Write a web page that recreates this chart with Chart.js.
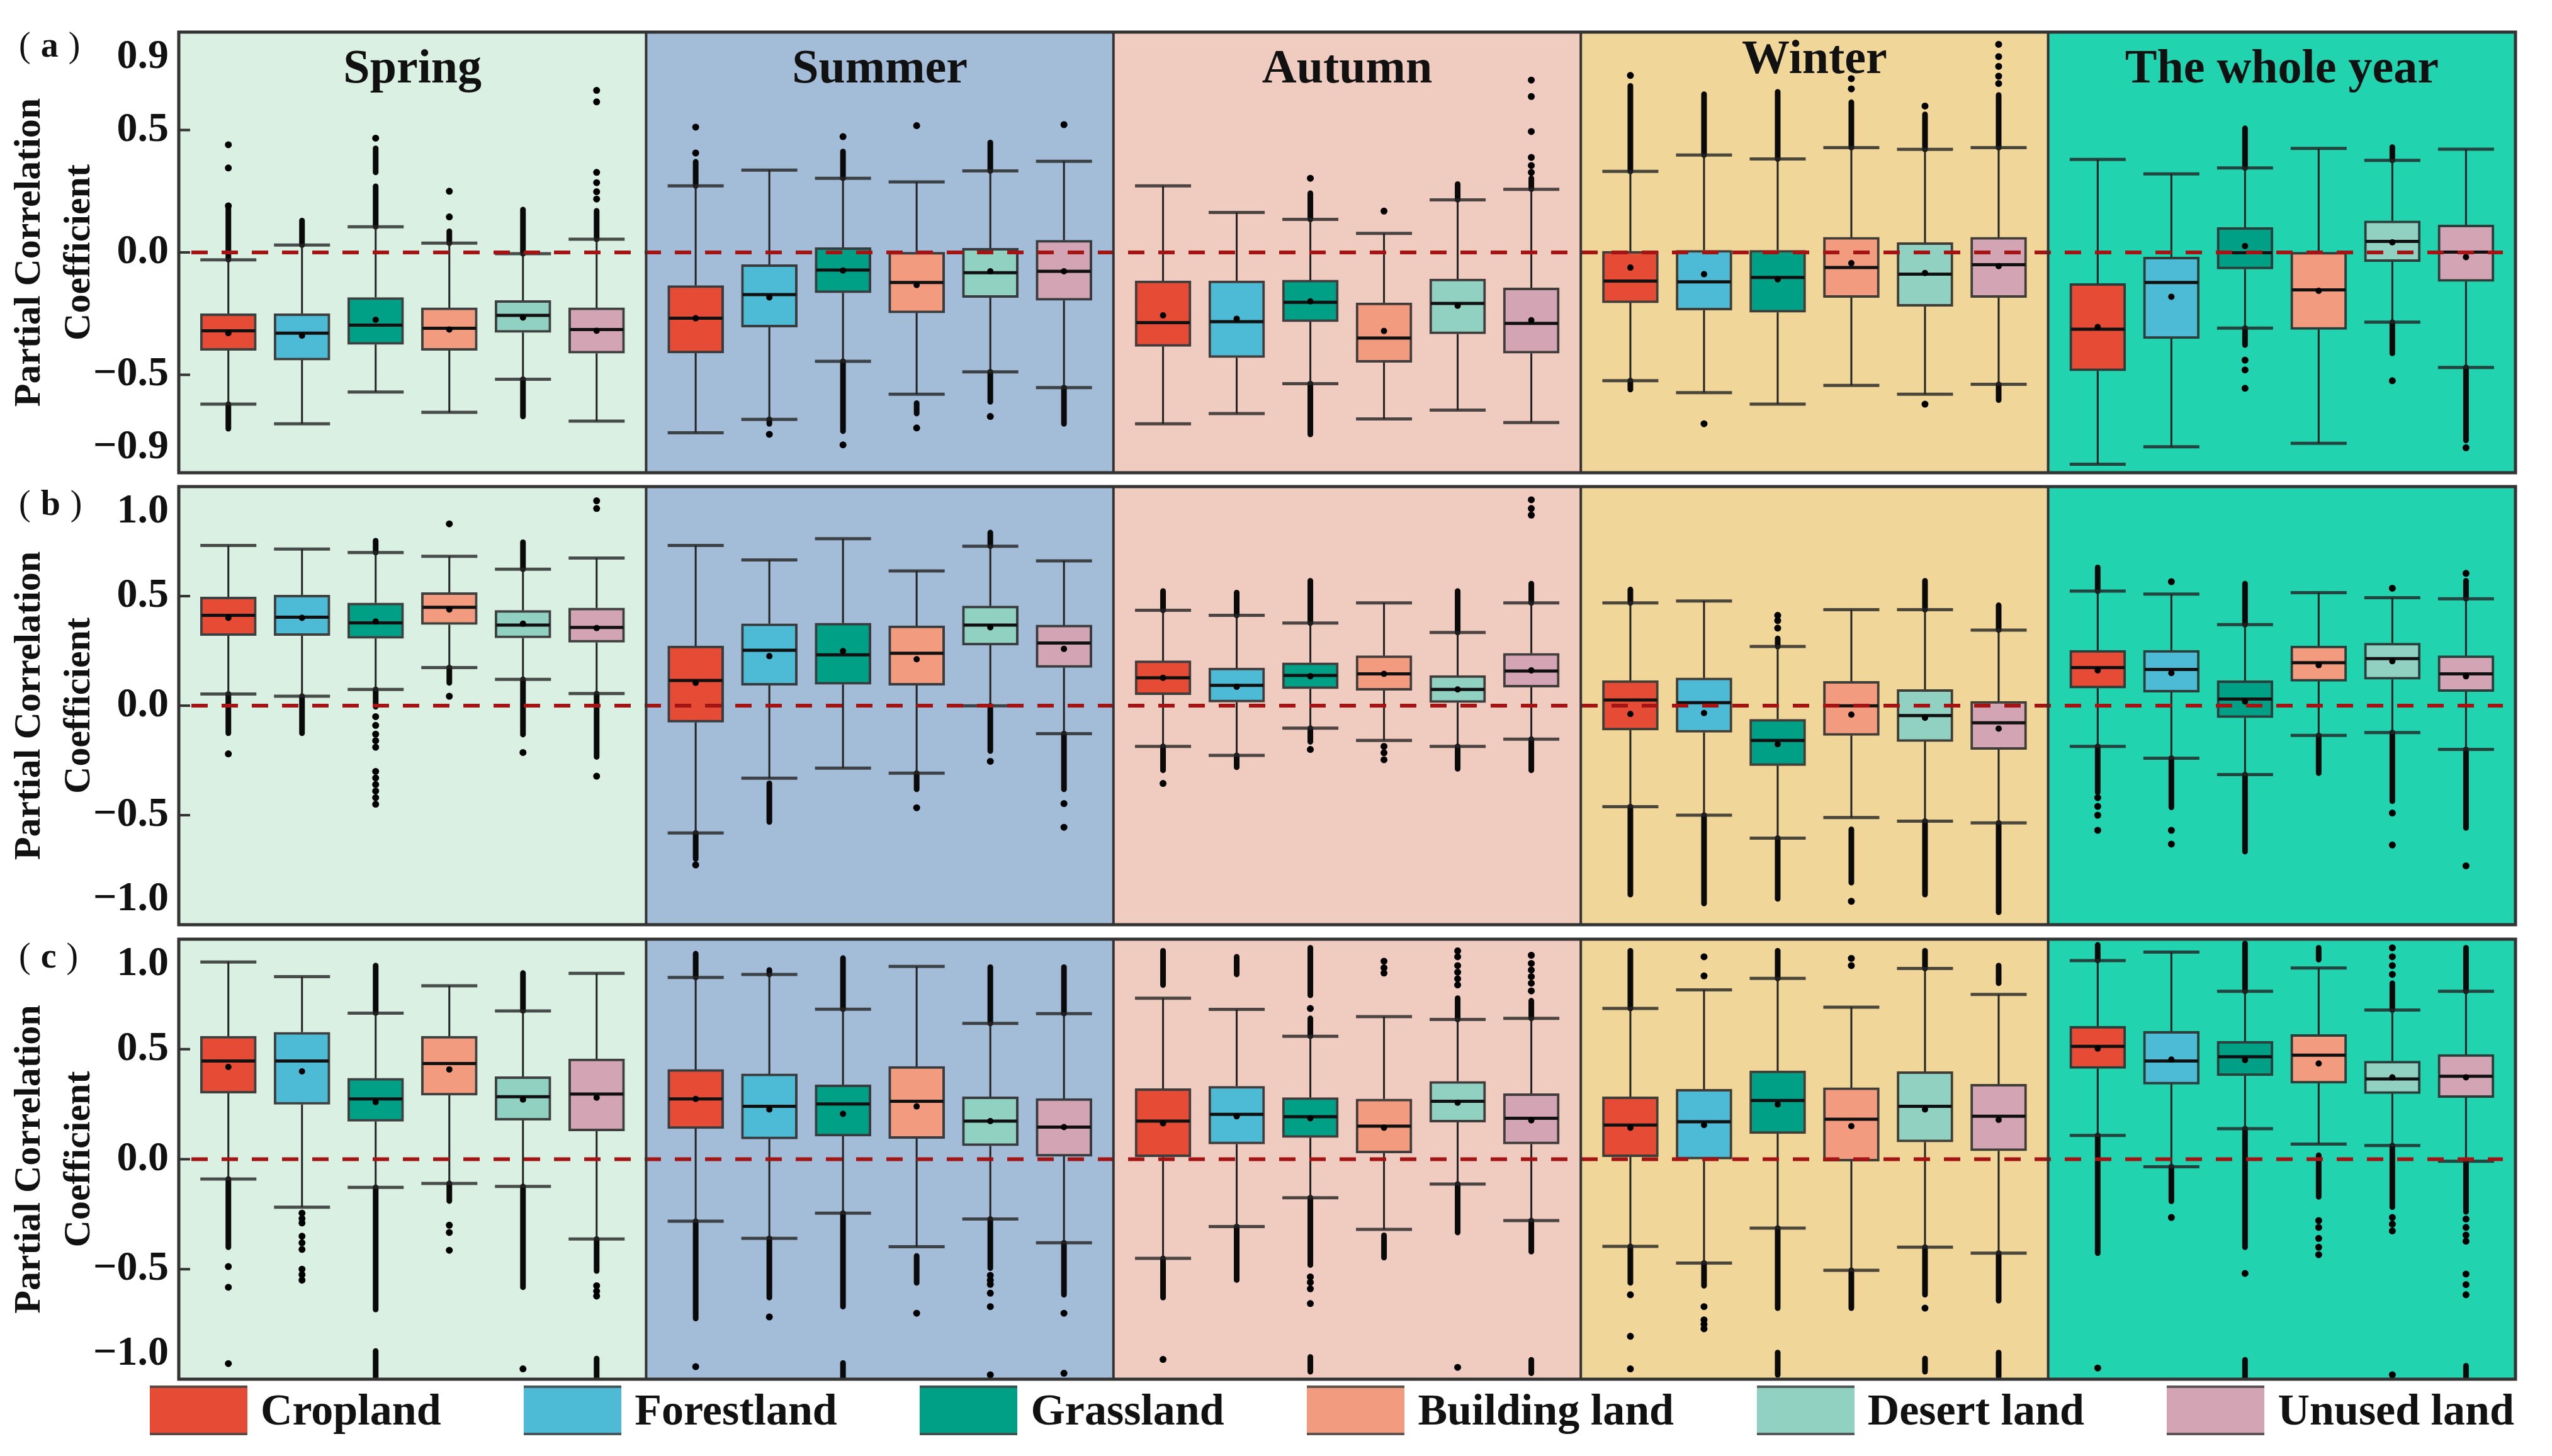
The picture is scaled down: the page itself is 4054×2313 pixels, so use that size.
<!DOCTYPE html>
<html>
<head>
<meta charset="utf-8">
<title>Partial correlation by land type and season</title>
<script src="https://cdn.jsdelivr.net/npm/chart.js@4.4.1/dist/chart.umd.min.js"></script>
<style>
    html, body { margin: 0; padding: 0; background: #fff; }
    body { width: 4054px; height: 2313px; position: relative; overflow: hidden; font-family: "Liberation Serif", "Times New Roman", serif; }
    .panel { position: absolute; left: 0; width: 4054px; }
    .tag { position: absolute; left: 30px; font-size: 56px; line-height: 56px; letter-spacing: 16px; color: #111; }
    #legend { position: absolute; left: 238px; top: 2200px; width: 3756px; height: 80px; display: flex; justify-content: space-between; align-items: center; }
    .item { display: flex; align-items: center; }
    .swatch { width: 155px; height: 71px; border-top: 4px solid rgba(70,70,70,0.85); border-bottom: 4px solid rgba(70,70,70,0.85); }
    .item span { margin-left: 21px; font-weight: bold; font-size: 70px; line-height: 80px; color: #111; }
</style>
</head>
<body>

<div class="panel" id="boxA" style="top:-60px;height:900px"><canvas id="chartA"></canvas></div>
<div class="panel" id="boxB" style="top:680px;height:880px"><canvas id="chartB"></canvas></div>
<div class="panel" id="boxC" style="top:1400px;height:880px"><canvas id="chartC"></canvas></div>
<div class="tag" style="top:43px">(<b>a</b>)</div>
<div class="tag" style="top:771px">(<b>b</b>)</div>
<div class="tag" style="top:1490px">(<b>c</b>)</div>
<div id="legend"></div>

<script>
// Categories
const seasons = ['Spring', 'Summer', 'Autumn', 'Winter', 'The whole year'];
const landTypes = ['Cropland', 'Forestland', 'Grassland', 'Building land', 'Desert land', 'Unused land'];

// Tick labels of each panel
const ticksA = [-0.9, -0.5, 0, 0.5, 0.9];
const ticksB = [-1, -0.5, 0, 0.5, 1];
const ticksC = [-1, -0.5, 0, 0.5, 1];

// Panel (a): one row per season, one value per land type
const aLow = [
    [-0.62, -0.70, -0.57, -0.653, -0.518, -0.689],
    [-0.737, -0.682, -0.445, -0.579, -0.488, -0.552],
    [-0.70, -0.658, -0.536, -0.68, -0.644, -0.695],
    [-0.524, -0.573, -0.62, -0.543, -0.579, -0.539],
    [-0.865, -0.794, -0.309, -0.78, -0.285, -0.47]
];
const aQ1 = [
    [-0.40, -0.44, -0.376, -0.40, -0.327, -0.412],
    [-0.411, -0.305, -0.165, -0.247, -0.184, -0.196],
    [-0.384, -0.43, -0.283, -0.449, -0.333, -0.412],
    [-0.206, -0.236, -0.245, -0.184, -0.22, -0.184],
    [-0.484, -0.352, -0.068, -0.315, -0.038, -0.119]
];
const aMed = [
    [-0.32, -0.33, -0.297, -0.31, -0.257, -0.315],
    [-0.269, -0.172, -0.072, -0.123, -0.083, -0.077],
    [-0.287, -0.283, -0.204, -0.35, -0.208, -0.29],
    [-0.117, -0.12, -0.102, -0.062, -0.089, -0.05],
    [-0.314, -0.123, -0.001, -0.153, 0.045, 0.001]
];
const aQ3 = [
    [-0.25, -0.25, -0.184, -0.226, -0.196, -0.226],
    [-0.135, -0.05, 0.02, 0.001, 0.017, 0.05],
    [-0.116, -0.116, -0.113, -0.206, -0.108, -0.145],
    [0.005, 0.009, 0.009, 0.062, 0.04, 0.062],
    [-0.127, -0.019, 0.102, 0.001, 0.129, 0.112]
];
const aHigh = [
    [-0.03, 0.03, 0.105, 0.038, -0.005, 0.054],
    [0.272, 0.336, 0.303, 0.288, 0.333, 0.372],
    [0.272, 0.163, 0.135, 0.078, 0.215, 0.258],
    [0.331, 0.398, 0.382, 0.428, 0.421, 0.428],
    [0.38, 0.321, 0.345, 0.425, 0.376, 0.422]
];
const aMean = [
    [-0.33, -0.34, -0.275, -0.315, -0.266, -0.32],
    [-0.269, -0.184, -0.074, -0.133, -0.077, -0.077],
    [-0.257, -0.271, -0.20, -0.321, -0.218, -0.277],
    [-0.062, -0.089, -0.11, -0.044, -0.084, -0.056],
    [-0.305, -0.181, 0.026, -0.157, 0.041, -0.019]
];
// dense outlier stretches [from, to] and single outliers
const aRuns = [
    [[[-0.03, 0.18], [-0.72, -0.62]], [[0.03, 0.13]], [[0.105, 0.27], [0.327, 0.425]], [[0.038, 0.086]], [[-0.005, 0.175], [-0.67, -0.518]], [[0.054, 0.17]]],
    [[[0.272, 0.37]], [[-0.70, -0.682]], [[0.303, 0.412], [-0.73, -0.445]], [[-0.658, -0.616]], [[0.333, 0.449], [-0.61, -0.488]], [[-0.70, -0.552]]],
    [[], [], [[0.135, 0.242], [-0.743, -0.536]], [], [[0.215, 0.279]], [[0.258, 0.303]]],
    [[[0.331, 0.68], [-0.56, -0.524]], [[0.398, 0.646]], [[0.382, 0.656]], [[0.428, 0.613]], [[0.421, 0.564]], [[0.428, 0.643], [-0.603, -0.539]]],
    [[], [], [[0.345, 0.507], [-0.378, -0.309]], [], [[0.376, 0.43], [-0.412, -0.285]], [[-0.768, -0.47]]]
];
const aDots = [
    [[0.19, 0.345, 0.44], [], [0.467], [0.145, 0.25], [], [0.218, 0.248, 0.285, 0.327, 0.615, 0.662]],
    [[0.406, 0.512], [-0.743], [0.473, -0.786], [0.518, -0.717], [-0.67], [0.522]],
    [[], [], [0.303], [0.169], [], [0.327, 0.355, 0.388, 0.494, 0.637, 0.704]],
    [[0.723], [-0.70], [], [0.668, 0.71], [0.598, -0.62], [0.69, 0.72, 0.76, 0.80, 0.85]],
    [[], [], [-0.44, -0.48, -0.555], [], [-0.524], [-0.798]]
];

// Panel (b)
const bLow = [
    [0.053, 0.043, 0.074, 0.174, 0.12, 0.055],
    [-0.581, -0.331, -0.285, -0.308, -0.001, -0.128],
    [-0.186, -0.227, -0.103, -0.159, -0.186, -0.153],
    [-0.461, -0.50, -0.605, -0.511, -0.527, -0.535],
    [-0.186, -0.24, -0.315, -0.136, -0.123, -0.20]
];
const bQ1 = [
    [0.32, 0.32, 0.307, 0.37, 0.309, 0.289],
    [-0.076, 0.093, 0.097, 0.093, 0.276, 0.174],
    [0.05, 0.016, 0.077, 0.07, 0.014, 0.084],
    [-0.112, -0.122, -0.274, -0.136, -0.164, -0.20],
    [0.08, 0.061, -0.055, 0.111, 0.12, 0.064]
];
const bMed = [
    [0.412, 0.404, 0.378, 0.449, 0.368, 0.357],
    [0.115, 0.253, 0.232, 0.239, 0.368, 0.286],
    [0.127, 0.093, 0.138, 0.145, 0.074, 0.158],
    [0.026, 0.014, -0.159, -0.001, -0.045, -0.078],
    [0.174, 0.165, 0.03, 0.196, 0.215, 0.145]
];
const bQ3 = [
    [0.496, 0.505, 0.469, 0.516, 0.435, 0.446],
    [0.273, 0.374, 0.377, 0.365, 0.455, 0.368],
    [0.205, 0.172, 0.196, 0.228, 0.138, 0.239],
    [0.115, 0.127, -0.062, 0.111, 0.074, 0.02],
    [0.253, 0.253, 0.114, 0.273, 0.286, 0.228]
];
const bHigh = [
    [0.731, 0.715, 0.699, 0.682, 0.623, 0.674],
    [0.731, 0.665, 0.762, 0.615, 0.728, 0.661],
    [0.435, 0.412, 0.377, 0.469, 0.334, 0.469],
    [0.469, 0.478, 0.27, 0.438, 0.438, 0.345],
    [0.523, 0.509, 0.37, 0.516, 0.493, 0.488]
];
const bMean = [
    [0.401, 0.401, 0.384, 0.439, 0.374, 0.354],
    [0.104, 0.226, 0.249, 0.212, 0.358, 0.259],
    [0.127, 0.086, 0.134, 0.145, 0.074, 0.161],
    [-0.038, -0.034, -0.176, -0.041, -0.055, -0.105],
    [0.161, 0.149, 0.019, 0.185, 0.203, 0.134]
];
const bRuns = [
    [[[-0.126, 0.053]], [[-0.126, 0.043]], [[0.699, 0.753], [-0.005, 0.074]], [[0.104, 0.174]], [[0.623, 0.746], [-0.132, 0.12]], [[-0.234, 0.055]]],
    [[[-0.70, -0.581]], [[-0.531, -0.355]], [], [[-0.382, -0.308]], [[0.728, 0.79], [-0.207, -0.001]], [[-0.382, -0.128]]],
    [[[0.435, 0.523], [-0.295, -0.186]], [[0.412, 0.516], [-0.281, -0.227]], [[0.377, 0.57], [-0.165, -0.103]], [], [[0.334, 0.523], [-0.288, -0.186]], [[0.469, 0.557], [-0.295, -0.153]]],
    [[[0.469, 0.53], [-0.862, -0.461]], [[-0.903, -0.50]], [[0.27, 0.307], [-0.882, -0.605]], [[-0.808, -0.565]], [[0.438, 0.57], [-0.862, -0.527]], [[0.345, 0.458], [-0.943, -0.535]]],
    [[[0.523, 0.631], [-0.396, -0.186]], [[-0.464, -0.24]], [[0.37, 0.557], [-0.666, -0.315]], [[-0.308, -0.136]], [[-0.436, -0.123]], [[0.488, 0.57], [-0.558, -0.20]]]
];
const bDots = [
    [[-0.22], [], [-0.05, -0.09, -0.13, -0.16, -0.19, -0.30, -0.33, -0.36, -0.39, -0.42, -0.45], [0.83, 0.043], [-0.214], [-0.322, 0.90, 0.935]],
    [[-0.727], [], [], [-0.466], [-0.254], [-0.447, -0.555]],
    [[-0.355], [], [-0.2], [-0.186, -0.215, -0.247], [], [0.87, 0.90, 0.94]],
    [[], [], [0.354, 0.388, 0.412], [-0.893], [], []],
    [[-0.42, -0.46, -0.50, -0.569], [0.566, -0.569, -0.632], [], [], [0.536, -0.49, -0.636], [0.604, -0.731]]
];

// Panel (c)
const cLow = [
    [-0.09, -0.218, -0.128, -0.11, -0.124, -0.363],
    [-0.282, -0.36, -0.245, -0.398, -0.272, -0.38],
    [-0.451, -0.306, -0.175, -0.319, -0.113, -0.279],
    [-0.396, -0.472, -0.313, -0.505, -0.40, -0.427],
    [0.108, -0.034, 0.139, 0.069, 0.062, -0.009]
];
const cQ1 = [
    [0.30, 0.249, 0.172, 0.291, 0.177, 0.128],
    [0.139, 0.092, 0.105, 0.094, 0.061, 0.013],
    [0.011, 0.069, 0.098, 0.028, 0.168, 0.069],
    [0.011, 0.0, 0.116, -0.009, 0.078, 0.038],
    [0.412, 0.341, 0.379, 0.345, 0.298, 0.28]
];
const cMed = [
    [0.446, 0.446, 0.274, 0.435, 0.284, 0.296],
    [0.274, 0.24, 0.251, 0.263, 0.173, 0.146],
    [0.173, 0.204, 0.193, 0.15, 0.263, 0.186],
    [0.155, 0.17, 0.267, 0.182, 0.24, 0.195],
    [0.513, 0.446, 0.466, 0.473, 0.365, 0.377]
];
const cQ3 = [
    [0.559, 0.577, 0.368, 0.559, 0.375, 0.456],
    [0.408, 0.388, 0.338, 0.422, 0.284, 0.276],
    [0.321, 0.332, 0.28, 0.274, 0.354, 0.298],
    [0.284, 0.318, 0.402, 0.325, 0.398, 0.341],
    [0.604, 0.581, 0.536, 0.567, 0.446, 0.476]
];
const cHigh = [
    [0.896, 0.83, 0.664, 0.788, 0.674, 0.845],
    [0.826, 0.84, 0.682, 0.876, 0.617, 0.662],
    [0.732, 0.681, 0.559, 0.648, 0.635, 0.64],
    [0.685, 0.77, 0.822, 0.691, 0.867, 0.749],
    [0.903, 0.941, 0.763, 0.869, 0.678, 0.763]
];
const cMean = [
    [0.419, 0.399, 0.26, 0.408, 0.271, 0.28],
    [0.274, 0.226, 0.206, 0.24, 0.173, 0.146],
    [0.163, 0.195, 0.186, 0.143, 0.257, 0.177],
    [0.143, 0.155, 0.249, 0.15, 0.226, 0.179],
    [0.503, 0.453, 0.451, 0.435, 0.372, 0.372]
];
const cRuns = [
    [[[-0.40, -0.09]], [], [[0.664, 0.88], [-0.683, -0.128], [-0.99, -0.872]], [[-0.19, -0.11]], [[0.674, 0.846], [-0.582, -0.124]], [[-0.508, -0.363], [-0.993, -0.906]]],
    [[[0.826, 0.934], [-0.724, -0.282]], [[0.84, 0.86], [-0.629, -0.36]], [[0.682, 0.914], [-0.67, -0.245], [-0.993, -0.926]], [[-0.562, -0.44]], [[0.617, 0.873], [-0.495, -0.272]], [[0.662, 0.873], [-0.616, -0.38]]],
    [[[0.792, 0.947], [-0.629, -0.451]], [[0.84, 0.92], [-0.549, -0.306]], [[0.745, 0.961], [0.559, 0.64], [-0.481, -0.175], [-0.966, -0.899]], [[-0.447, -0.346]], [[0.635, 0.732], [-0.333, -0.113]], [[0.64, 0.72], [-0.42, -0.279], [-0.973, -0.912]]],
    [[[0.685, 0.947], [-0.562, -0.396]], [[-0.575, -0.472]], [[0.822, 0.947], [-0.677, -0.313], [-0.98, -0.879]], [[-0.677, -0.505]], [[0.867, 0.947], [-0.616, -0.40], [-0.966, -0.906]], [[0.80, 0.88], [-0.643, -0.427], [-0.987, -0.879]]],
    [[[0.903, 0.974], [-0.427, 0.108]], [[-0.191, -0.034]], [[0.763, 0.981], [-0.40, 0.139], [-0.993, -0.912]], [[0.907, 0.961], [-0.171, 0.018]], [[0.678, 0.80], [-0.218, 0.062]], [[0.763, 0.961], [-0.239, -0.009], [-0.993, -0.939]]]
];
const cDots = [
    [[-0.488, -0.582, -0.929], [-0.245, -0.27, -0.29, -0.35, -0.38, -0.41, -0.50, -0.525, -0.55], [], [-0.30, -0.333, -0.414], [-0.953], [-0.575, -0.60, -0.622]],
    [[-0.943], [-0.717], [], [-0.70], [-0.528, -0.55, -0.569, -0.609, -0.67, -0.98], [-0.70, -0.973]],
    [[-0.91], [], [0.685, -0.535, -0.56, -0.589, -0.656], [0.846, 0.87, 0.90], [0.792, 0.82, 0.85, 0.88, 0.92, 0.947, -0.946], [0.765, 0.80, 0.83, 0.86, 0.89, 0.927]],
    [[-0.616, -0.805, -0.953], [0.833, 0.92, -0.67, -0.73, -0.75, -0.771], [], [0.88, 0.913], [-0.677], []],
    [[-0.949], [-0.265], [-0.519], [-0.279, -0.31, -0.36, -0.40, -0.434], [0.84, 0.88, 0.92, 0.961, -0.265, -0.295, -0.326, -0.98], [-0.272, -0.31, -0.345, -0.373, -0.522, -0.57, -0.616]]
];

// Styles
const landColors = ['#E64B35', '#4DBBD5', '#00A087', '#F39B7F', '#91D1C2', '#D3A4B4'];
const seasonColors = ['#D9F0E3', '#A3BCD7', '#F0CBC0', '#F0D799', '#22D3B0'];

// Layout: boxes sit on a linear x axis, one unit per box slot
const SEASON_SLOTS = 6.345;
const FIRST_SLOT = 0.673;
const BOX_W = 89;
const PLOT_LEFT = 284;
const PLOT_RIGHT = 3996;

function boxX(s, i) {
    return s * SEASON_SLOTS + FIRST_SLOT + i;
}

function fmt(v) {
    const s = Math.abs(v).toFixed(1);
    return v < 0 ? '\u2212' + s : s;
}

Chart.defaults.font.family = '"Liberation Serif", "Times New Roman", serif';
Chart.defaults.color = '#111';

const panels = [
    { canvas: 'chartA', top: -60, height: 900, areaTop: 51, areaBottom: 751, yMin: -0.9, yMax: 0.9, ticks: ticksA,
      low: aLow, q1: aQ1, med: aMed, q3: aQ3, high: aHigh, mean: aMean, runs: aRuns, dots: aDots, titles: true },
    { canvas: 'chartB', top: 680, height: 880, areaTop: 773, areaBottom: 1469, yMin: -1, yMax: 1, ticks: ticksB,
      low: bLow, q1: bQ1, med: bMed, q3: bQ3, high: bHigh, mean: bMean, runs: bRuns, dots: bDots, titles: false },
    { canvas: 'chartC', top: 1400, height: 880, areaTop: 1492, areaBottom: 2191, yMin: -1, yMax: 1, ticks: ticksC,
      low: cLow, q1: cQ1, med: cMed, q3: cQ3, high: cHigh, mean: cMean, runs: cRuns, dots: cDots, titles: false }
];

// Draws section backgrounds, whiskers, medians, the zero line and the frame
function makeExtras(p) {
    return {
        id: 'boxExtras',
        beforeDatasetsDraw(chart) {
            const { ctx, chartArea: a, scales: { x, y } } = chart;
            ctx.save();
            seasons.forEach((name, s) => {
                const x0 = x.getPixelForValue(s * SEASON_SLOTS);
                const x1 = x.getPixelForValue((s + 1) * SEASON_SLOTS);
                ctx.fillStyle = seasonColors[s];
                ctx.fillRect(x0, a.top, x1 - x0, a.bottom - a.top);
            });
            seasons.forEach((name, s) => {
                landTypes.forEach((land, i) => {
                    const cx = x.getPixelForValue(boxX(s, i));
                    ctx.strokeStyle = '#0a0a0a';
                    ctx.lineWidth = 9;
                    ctx.lineCap = 'round';
                    p.runs[s][i].forEach(([u, v]) => {
                        ctx.beginPath();
                        ctx.moveTo(cx, y.getPixelForValue(u));
                        ctx.lineTo(cx, y.getPixelForValue(v));
                        ctx.stroke();
                    });
                    ctx.lineCap = 'butt';
                    ctx.strokeStyle = '#222';
                    ctx.lineWidth = 3;
                    ctx.beginPath();
                    ctx.moveTo(cx, y.getPixelForValue(p.high[s][i]));
                    ctx.lineTo(cx, y.getPixelForValue(p.q3[s][i]));
                    ctx.moveTo(cx, y.getPixelForValue(p.q1[s][i]));
                    ctx.lineTo(cx, y.getPixelForValue(p.low[s][i]));
                    ctx.stroke();
                    ctx.strokeStyle = 'rgba(35,35,35,0.8)';
                    ctx.lineWidth = 5;
                    ctx.beginPath();
                    [p.high[s][i], p.low[s][i]].forEach(v => {
                        const py = y.getPixelForValue(v);
                        ctx.moveTo(cx - BOX_W / 2, py);
                        ctx.lineTo(cx + BOX_W / 2, py);
                    });
                    ctx.stroke();
                });
            });
            ctx.restore();
        },
        afterDatasetDraw(chart, args) {
            if (args.index !== 0) return;
            const { ctx, scales: { y } } = chart;
            ctx.save();
            ctx.strokeStyle = '#111';
            ctx.lineWidth = 5;
            args.meta.data.forEach((bar, k) => {
                const s = Math.floor(k / landTypes.length);
                const i = k % landTypes.length;
                const py = y.getPixelForValue(p.med[s][i]);
                ctx.beginPath();
                ctx.moveTo(bar.x - BOX_W / 2 + 2, py);
                ctx.lineTo(bar.x + BOX_W / 2 - 2, py);
                ctx.stroke();
            });
            ctx.restore();
        },
        afterDatasetsDraw(chart) {
            const { ctx, chartArea: a, scales: { x, y } } = chart;
            ctx.save();
            // red dashed zero line
            const y0 = y.getPixelForValue(0);
            ctx.strokeStyle = '#A31414';
            ctx.lineWidth = 6;
            ctx.setLineDash([26, 22]);
            ctx.beginPath();
            ctx.moveTo(a.left + 20, y0);
            ctx.lineTo(a.right - 20, y0);
            ctx.stroke();
            ctx.setLineDash([]);
            // inward tick marks
            ctx.strokeStyle = '#333';
            ctx.lineWidth = 4;
            p.ticks.forEach(v => {
                if (v === p.yMin || v === p.yMax) return;
                const py = y.getPixelForValue(v);
                ctx.beginPath();
                ctx.moveTo(a.left, py);
                ctx.lineTo(a.left + 18, py);
                ctx.stroke();
            });
            // season dividers and frame
            for (let s = 1; s < seasons.length; s++) {
                const px = x.getPixelForValue(s * SEASON_SLOTS);
                ctx.beginPath();
                ctx.moveTo(px, a.top);
                ctx.lineTo(px, a.bottom);
                ctx.stroke();
            }
            ctx.lineWidth = 5;
            ctx.strokeRect(a.left, a.top, a.right - a.left, a.bottom - a.top);
            // season titles
            if (p.titles) {
                ctx.fillStyle = '#111';
                ctx.font = 'bold 76px "Liberation Serif", "Times New Roman", serif';
                ctx.textAlign = 'center';
                ctx.textBaseline = 'alphabetic';
                seasons.forEach((name, s) => {
                    const px = x.getPixelForValue((s + 0.5) * SEASON_SLOTS);
                    const base = name === 'Winter' ? a.top + 65 : a.top + 80;
                    ctx.fillText(name, px, base);
                });
            }
            ctx.restore();
        }
    };
}

panels.forEach(p => {
    const boxes = [];
    const boxColors = [];
    const means = [];
    const outliers = [];
    seasons.forEach((name, s) => {
        landTypes.forEach((land, i) => {
            const bx = boxX(s, i);
            boxes.push({ x: bx, y: [p.q1[s][i], p.q3[s][i]] });
            boxColors.push(landColors[i]);
            means.push({ x: bx, y: p.mean[s][i] });
            p.dots[s][i].forEach(v => outliers.push({ x: bx, y: v }));
        });
    });

    const bottomPad = p.top + p.height - p.areaBottom;
    new Chart(document.getElementById(p.canvas), {
        type: 'bar',
        data: {
            datasets: [{
                type: 'bar',
                data: boxes,
                backgroundColor: boxColors,
                borderColor: 'rgba(45,45,45,0.9)',
                borderWidth: 4,
                borderSkipped: false,
                barThickness: BOX_W,
                order: 2
            }, {
                type: 'scatter',
                data: means,
                pointRadius: 5,
                pointBackgroundColor: '#000',
                pointBorderWidth: 0,
                order: 1
            }, {
                type: 'scatter',
                data: outliers,
                pointRadius: 5.5,
                pointBackgroundColor: '#000',
                pointBorderWidth: 0,
                order: 0
            }]
        },
        options: {
            responsive: true,
            maintainAspectRatio: false,
            animation: false,
            devicePixelRatio: 1,
            events: [],
            layout: {
                padding: { left: 0, right: 4054 - PLOT_RIGHT, top: p.areaTop - p.top, bottom: bottomPad }
            },
            plugins: {
                legend: { display: false },
                tooltip: { enabled: false }
            },
            scales: {
                x: {
                    type: 'linear',
                    min: 0,
                    max: SEASON_SLOTS * seasons.length,
                    offset: false,
                    display: false
                },
                y: {
                    min: p.yMin,
                    max: p.yMax,
                    afterBuildTicks: scale => {
                        scale.ticks = p.ticks.map(v => ({ value: v }));
                    },
                    afterFit: scale => {
                        scale.width = PLOT_LEFT;
                        scale.paddingTop = 0;
                        scale.paddingBottom = 0;
                    },
                    grid: { display: false, drawTicks: false },
                    border: { display: false },
                    ticks: {
                        autoSkip: false,
                        padding: 16,
                        color: '#111',
                        font: { size: 66, weight: 'bold' },
                        callback: (value, index, ticks) => {
                            const t = fmt(value);
                            if (index === 0) return [t, ''];
                            if (index === ticks.length - 1) return ['', t];
                            return t;
                        }
                    },
                    title: {
                        display: true,
                        text: ['Partial Correlation', 'Coefficient'],
                        color: '#111',
                        font: { size: 60, weight: 'bold', lineHeight: '79px' },
                        padding: { top: 8, bottom: 0 }
                    }
                }
            }
        },
        plugins: [makeExtras(p)]
    });
});

// Legend
const legend = document.getElementById('legend');
landTypes.forEach((land, i) => {
    const item = document.createElement('div');
    item.className = 'item';
    const sw = document.createElement('div');
    sw.className = 'swatch';
    sw.style.background = landColors[i];
    const label = document.createElement('span');
    label.textContent = land;
    item.appendChild(sw);
    item.appendChild(label);
    legend.appendChild(item);
});
</script>
</body>
</html>
